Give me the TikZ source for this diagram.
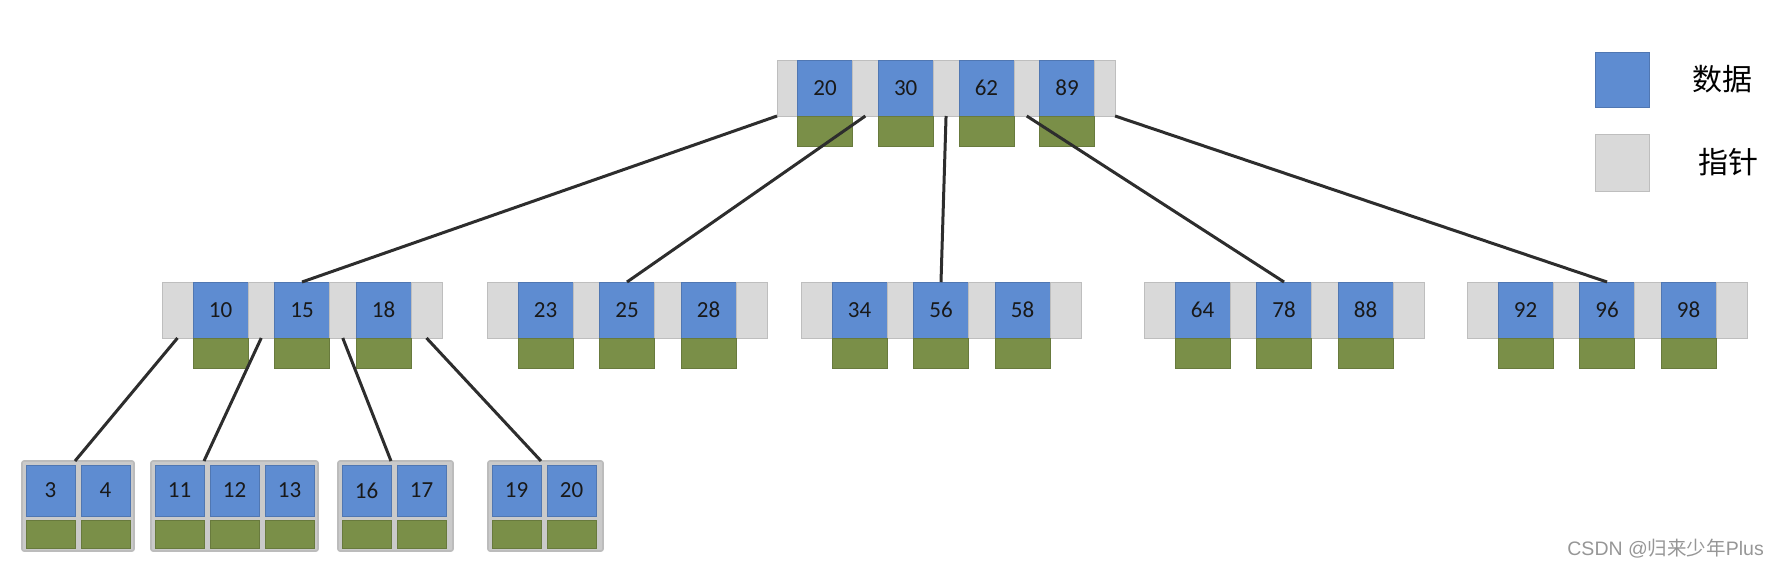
\documentclass[tikz,border=0pt]{standalone}
\usepackage{fontspec}
\setmainfont{Carlito}
\newfontfamily\cjk{Noto Sans CJK SC}
\newfontfamily\marksf{Liberation Sans}
\usepackage{tikz}
\usetikzlibrary{positioning}

\definecolor{keyblue}{RGB}{94,140,209}
\definecolor{recgreen}{RGB}{122,143,72}
\definecolor{ptrgray}{RGB}{217,217,217}
\definecolor{ptrline}{RGB}{190,190,190}
\definecolor{leafgray}{RGB}{202,202,202}
\definecolor{leafline}{RGB}{188,188,188}
\definecolor{edgegray}{RGB}{45,45,45}
\definecolor{markgray}{RGB}{150,150,150}

\tikzset{
  key/.style={fill=keyblue,draw=keyblue!85!black,line width=0.5pt,minimum width=55pt,minimum height=56pt,
    inner sep=0pt,outer sep=0pt,text=black!90,font=\fontsize{23}{23}\selectfont},
  rec/.style={fill=recgreen,draw=recgreen!85!black,line width=0.5pt,minimum width=55pt,minimum height=30pt,
    inner sep=0pt,outer sep=0pt},
  ptr/.style={fill=ptrgray,draw=ptrline,line width=0.8pt,minimum width=26.5pt,minimum height=56pt,
    inner sep=0pt,outer sep=0pt},
  leaf/.style={fill=leafgray,draw=leafline,line width=1.6pt,rounded corners=2pt,minimum height=90pt,
    inner sep=0pt,outer sep=0pt},
  leafkey/.style={key,minimum width=49pt,minimum height=51pt},
  leafrec/.style={rec,minimum width=49pt,minimum height=28pt},
}

\begin{document}
\begin{tikzpicture}[x=1pt,y=-1pt]
  \useasboundingbox (0,0) rectangle (1780,568);

  % root
  \node[ptr,minimum width=20.5pt,anchor=west] (r-p0) at (777,88) {};
  \node[key,right=0pt of r-p0] (r-1) {20};
  \node[ptr,minimum width=25.7pt,right=0pt of r-1] (r-p1) {};
  \node[key,right=0pt of r-p1] (r-2) {30};
  \node[ptr,minimum width=25.7pt,right=0pt of r-2] (r-p2) {};
  \node[key,right=0pt of r-p2] (r-3) {62};
  \node[ptr,minimum width=25.7pt,right=0pt of r-3] (r-p3) {};
  \node[key,right=0pt of r-p3] (r-4) {89};
  \node[ptr,minimum width=20.5pt,right=0pt of r-4] (r-p4) {};
  \foreach \i in {1,...,4}
    \node[rec,below=0pt of r-\i] (r-r\i) {};

  % second level
  \foreach \n/\x/\a/\b/\c in {n1/162/10/15/18, n2/487/23/25/28, n3/801/34/56/58,
                             n4/1144/64/78/88, n5/1467/92/96/98} {
    \node[ptr,minimum width=31pt,anchor=west] (\n-p0) at (\x,310) {};
    \node[key,right=0pt of \n-p0] (\n-1) {\a};
    \node[ptr,right=0pt of \n-1] (\n-p1) {};
    \node[key,right=0pt of \n-p1] (\n-2) {\b};
    \node[ptr,right=0pt of \n-2] (\n-p2) {};
    \node[key,right=0pt of \n-p2] (\n-3) {\c};
    \node[ptr,minimum width=31pt,right=0pt of \n-3] (\n-p3) {};
    \foreach \i in {1,2,3}
      \node[rec,below=0pt of \n-\i] (\n-r\i) {};
  }

  % leaves
  \foreach \n/\x/\w/\keys in {l1/22/112/{3,4}, l2/151/167/{11,12,13},
                              l3/338/115/{16,17}, l4/488/115/{19,20}} {
    \node[leaf,minimum width=\w pt,anchor=north west] (\n) at (\x,461) {};
    \foreach \k [count=\i] in \keys {
      \node[leafkey] (\n-\i) at (\x+28.5+55*\i-55,490.5) {\k};
      \node[leafrec,below=4pt of \n-\i] (\n-r\i) {};
    }
  }

  % legend
  \node[key,minimum width=54pt,minimum height=55pt] (lg-key) at (1622,79.5) {};
  \node[ptr,minimum width=54pt,minimum height=57pt] (lg-ptr) at (1622,162.5) {};
  \node[right=43pt of lg-key,inner sep=0pt,font=\cjk\fontsize{30}{30}\selectfont] (lg-keytext) {数据};
  \node[right=49pt of lg-ptr,inner sep=0pt,font=\cjk\fontsize{30}{30}\selectfont] (lg-ptrtext) {指针};

  \node[anchor=east,inner sep=0pt,text=markgray,font=\fontsize{19.5}{19.5}\selectfont] (mark)
    at (1764,549) {\marksf CSDN @\cjk 归来少年\marksf Plus};

  \begin{scope}[every edge/.style={draw=edgegray,line width=3pt}]
    \path (r-p0.south west) edge (n1-2.north);
    \path (r-p1.south) edge (n2-2.north);
    \path (r-p2.south) edge (n3-2.north);
    \path (r-p3.south) edge (n4-2.north);
    \path (r-p4.south east) edge (n5-2.north);
    \path (n1-p0.south) edge (l1-1.east |- l1.north);
    \path (n1-p1.south) edge (l2-1.east |- l2.north);
    \path (n1-p2.south) edge (l3-1.east |- l3.north);
    \path (n1-p3.south) edge (l4-1.east |- l4.north);
  \end{scope}
\end{tikzpicture}
\end{document}
